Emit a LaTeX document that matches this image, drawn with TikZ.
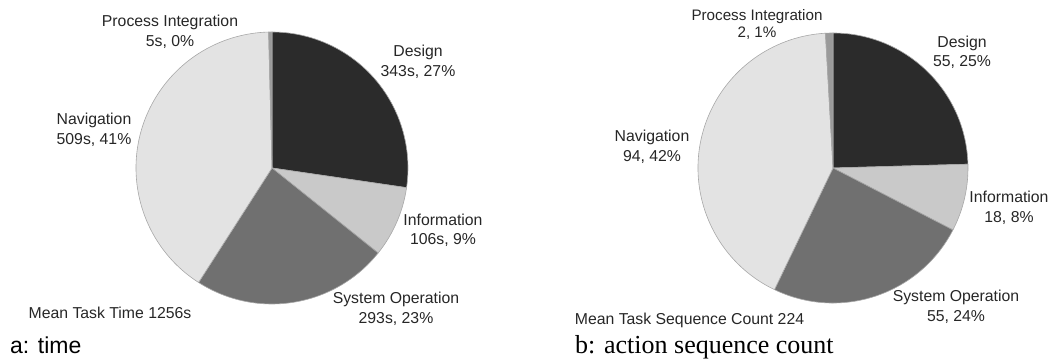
\documentclass[tikz,border=0pt]{standalone}
\usepackage{fontspec}
\setmainfont{Liberation Serif}
\setsansfont{Liberation Sans}
\usetikzlibrary{positioning}
\definecolor{piedesign}{HTML}{2B2B2B}
\definecolor{pieinfo}{HTML}{C9C9C9}
\definecolor{piesysop}{HTML}{707070}
\definecolor{pienav}{HTML}{E3E3E3}
\definecolor{pieproc}{HTML}{9A9A9A}
\definecolor{pieedge}{HTML}{A8A8A8}
\tikzset{
  slice/.style={draw=pieedge, line width=0.6pt, line join=round},
  pielabel/.style={font=\sffamily\fontsize{15.8}{19.5}\selectfont, align=center, inner sep=0pt, text=black!85},
  caption/.style={inner sep=0pt, anchor=base west}
}

\begin{document}
\begin{tikzpicture}[x=1pt, y=1pt]
  \useasboundingbox (0,0) rectangle (1055,361);
  \coordinate (timec) at (272,193);
  \coordinate (countc) at (833,193);
  % a: time
  \foreach \a/\b/\c in {90/-8.31/piedesign, -8.31/-38.69/pieinfo, -38.69/-122.68/piesysop,
                        -122.68/-268.57/pienav, -268.57/-270/pieproc}
    \filldraw[slice, fill=\c] (timec) -- ++(\a:136) arc[start angle=\a, end angle=\b, radius=136] -- cycle;
  % b: action sequence count
  \foreach \a/\b/\c in {90/1.61/piedesign, 1.61/-27.32/pieinfo, -27.32/-115.71/piesysop,
                        -115.71/-266.79/pienav, -266.79/-270/pieproc}
    \filldraw[slice, fill=\c] (countc) -- ++(\a:135) arc[start angle=\a, end angle=\b, radius=135] -- cycle;

  \node[pielabel] (tproc) at (170,329) {Process Integration\\5s, 0\%};
  \node[pielabel] (tdesign) at (418,299) {Design\\343s, 27\%};
  \node[pielabel] (tnav) at (94,231) {Navigation\\509s, 41\%};
  \node[pielabel] (tinfo) at (443,130.5) {Information\\106s, 9\%};
  \node[pielabel] (tsysop) at (396,52) {System Operation\\293s, 23\%};
  \node[pielabel, anchor=base] (tmean) at (110,42) {Mean Task Time 1256s};
  \node[caption, font=\sffamily\fontsize{23}{27}\selectfont] (tcap) at (10,7) {a: time};

  \node[pielabel, font=\sffamily\fontsize{15.2}{17}\selectfont] (cproc) at (757,337) {Process Integration\\2, 1\%};
  \node[pielabel] (cdesign) at (962,308.5) {Design\\55, 25\%};
  \node[pielabel] (cnav) at (652,214) {Navigation\\94, 42\%};
  \node[pielabel] (cinfo) at (1009,153) {Information\\18, 8\%};
  \node[pielabel] (csysop) at (956,54) {System Operation\\55, 24\%};
  \node[pielabel, anchor=base] (cmean) at (689.5,36) {Mean Task Sequence Count 224};
  \node[caption, font=\rmfamily\fontsize{26}{30}\selectfont] (ccap) at (575,7) {b: action sequence count};
\end{tikzpicture}
\end{document}
